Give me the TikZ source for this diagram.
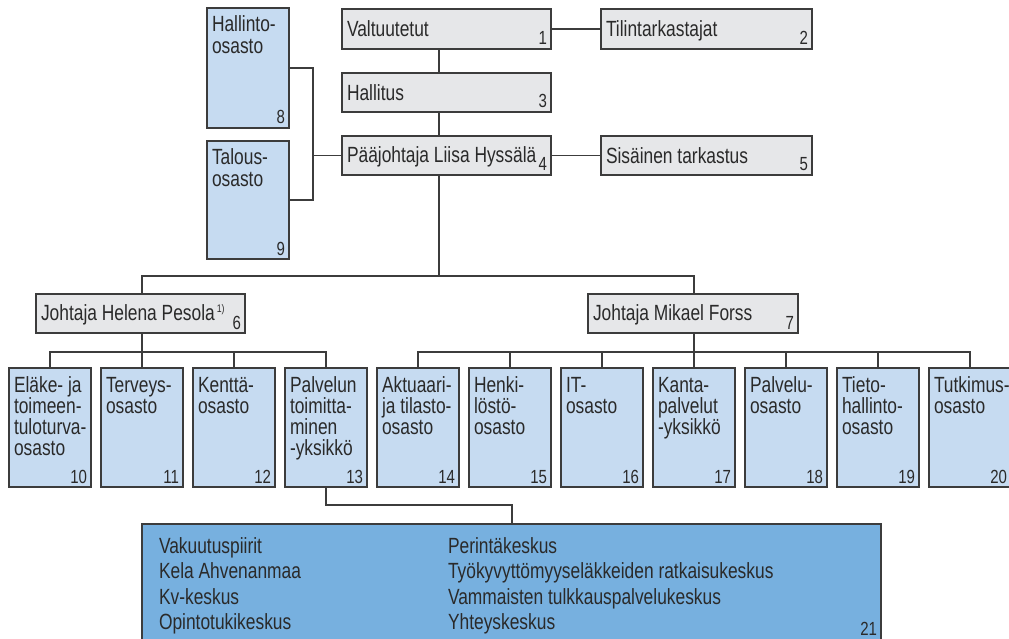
\documentclass[tikz,border=0pt]{standalone}
\usepackage{fontspec}
\setmainfont{Liberation Sans}[FakeStretch=0.79]
\definecolor{gfill}{HTML}{E6E7E9}
\definecolor{bfill}{HTML}{C6DBF1}
\definecolor{dfill}{HTML}{77B0DF}
\definecolor{edgec}{HTML}{3C3C3C}
\definecolor{ink}{HTML}{2A2A2A}
\tikzset{
  box/.style={draw=edgec, line width=1.3pt, anchor=north west, inner sep=0pt, outer sep=0pt},
  gbox/.style={box, fill=gfill},
  bbox/.style={box, fill=bfill},
  dbox/.style={box, fill=dfill},
  txt/.style={anchor=base west, inner sep=0pt, outer sep=0pt, text=ink, font=\fontsize{22pt}{21.3pt}\selectfont},
  coltxt/.style={anchor=base west, inner sep=0pt, outer sep=0pt, text=ink, font=\fontsize{22pt}{25.5pt}\selectfont},
  num/.style={anchor=base east, inner sep=0pt, outer sep=0pt, text=ink, font=\fontsize{19pt}{19pt}\selectfont},
  conn/.style={draw=edgec, line width=1.3pt},
}
% name, style, x, y, w, h, text, number, baseline offset
\newcommand\orgbox[9]{%
  \node[#2, minimum width=#5pt, minimum height=#6pt] (#1) at (#3,#4) {};
  \node[txt] (#1t) at ([xshift=5pt, yshift=-#9pt]#1.north west) {\parbox[t]{320pt}{\raggedright #7}};
  \node[num] (#1n) at ([xshift=-4pt, yshift=4pt]#1.south east) {#8};
}
\begin{document}
\begin{tikzpicture}[x=1pt,y=-1pt]
\useasboundingbox (0,0) rectangle (1009,639);

% top level
\orgbox{n1}{gbox}{342}{9}{209}{40}{Valtuutetut}{1}{28}
\orgbox{n2}{gbox}{601}{9}{211}{40}{Tilintarkastajat}{2}{28}
\orgbox{n3}{gbox}{342}{73}{209}{39}{Hallitus}{3}{28}
\orgbox{n4}{gbox}{342}{136}{209}{39}{Pääjohtaja Liisa Hyssälä}{4}{27}
\orgbox{n5}{gbox}{601}{136}{211}{39}{Sisäinen tarkastus}{5}{28}
\orgbox{n8}{bbox}{207}{8}{82}{120}{Hallinto-\\osasto}{8}{24}
\orgbox{n9}{bbox}{207}{141}{82}{118}{Talous-\\osasto}{9}{24}

% directors
\orgbox{n6}{gbox}{36}{294}{209}{39}{Johtaja Helena Pesola\kern2pt\raisebox{8pt}{\fontsize{11pt}{11pt}\selectfont 1)}}{6}{26}
\orgbox{n7}{gbox}{588}{294}{210}{39}{Johtaja Mikael Forss}{7}{26}

% departments
\orgbox{n10}{bbox}{9}{368}{82}{119}{Eläke- ja\\toimeen-\\tuloturva-\\osasto}{10}{24}
\orgbox{n11}{bbox}{101}{368}{82}{119}{Terveys-\\osasto}{11}{24}
\orgbox{n12}{bbox}{193}{368}{82}{119}{Kenttä-\\osasto}{12}{24}
\orgbox{n13}{bbox}{285}{368}{82}{119}{Palvelun\\toimitta-\\minen\\-yksikkö}{13}{24}
\orgbox{n14}{bbox}{377}{368}{82}{119}{Aktuaari-\\ja tilasto-\\osasto}{14}{24}
\orgbox{n15}{bbox}{469}{368}{82}{119}{Henki-\\löstö-\\osasto}{15}{24}
\orgbox{n16}{bbox}{561}{368}{82}{119}{IT-\\osasto}{16}{24}
\orgbox{n17}{bbox}{653}{368}{82}{119}{Kanta-\\palvelut\\-yksikkö}{17}{24}
\orgbox{n18}{bbox}{745}{368}{82}{119}{Palvelu-\\osasto}{18}{24}
\orgbox{n19}{bbox}{837}{368}{82}{119}{Tieto-\\hallinto-\\osasto}{19}{24}
\orgbox{n20}{bbox}{929}{368}{82}{119}{Tutkimus-\\osasto}{20}{24}

% bottom box
\node[dbox, minimum width=739pt, minimum height=122pt] (n21) at (142,524) {};
\node[coltxt] (n21a) at (159,553) {\parbox[t]{250pt}{\raggedright Vakuutuspiirit\\Kela Ahvenanmaa\\Kv-keskus\\Opintotukikeskus}};
\node[coltxt] (n21b) at (448,553) {\parbox[t]{420pt}{\raggedright Perintäkeskus\\Työkyvyttömyyseläkkeiden ratkaisukeskus\\Vammaisten tulkkauspalvelukeskus\\Yhteyskeskus}};
\node[num] (n21n) at (877,635) {21};

% connectors
\coordinate (trunk) at (439,276);
\coordinate (hl) at (142,276);
\coordinate (hr) at (694,276);
\coordinate (br) at (313,154);
\coordinate (lb) at (0,352);
\coordinate (c21) at (512,505);

\draw[conn] (n1.east) -- (n2.west);
\draw[conn] (n4.east) -- (n5.west);
\draw[conn] (n1.south -| trunk) -- (n3.north -| trunk);
\draw[conn] (n3.south -| trunk) -- (n4.north -| trunk);
\draw[conn] (n4.south -| trunk) -- (trunk);
\draw[conn] (n6.north -| hl) -- (hl) -- (hr) -- (n7.north -| hr);

\draw[conn] (n8.east) -| (br |- n9.east) -- (n9.east);
\draw[conn] (br |- n4.west) -- (n4.west);

\draw[conn] (n6.south -| hl) -- (hl |- lb);
\draw[conn] (n10.north) |- (n13.north |- lb) -- (n13.north);
\draw[conn] (n11.north) -- (n11.north |- lb);
\draw[conn] (n12.north) -- (n12.north |- lb);

\draw[conn] (n7.south -| hr) -- (hr |- lb);
\draw[conn] (n14.north) |- (n20.north |- lb) -- (n20.north);
\draw[conn] (n15.north) -- (n15.north |- lb);
\draw[conn] (n16.north) -- (n16.north |- lb);
\draw[conn] (n17.north) -- (n17.north |- lb);
\draw[conn] (n18.north) -- (n18.north |- lb);
\draw[conn] (n19.north) -- (n19.north |- lb);

\draw[conn] (n13.south) |- (c21) -- (c21 |- n21.north);
\end{tikzpicture}
\end{document}
